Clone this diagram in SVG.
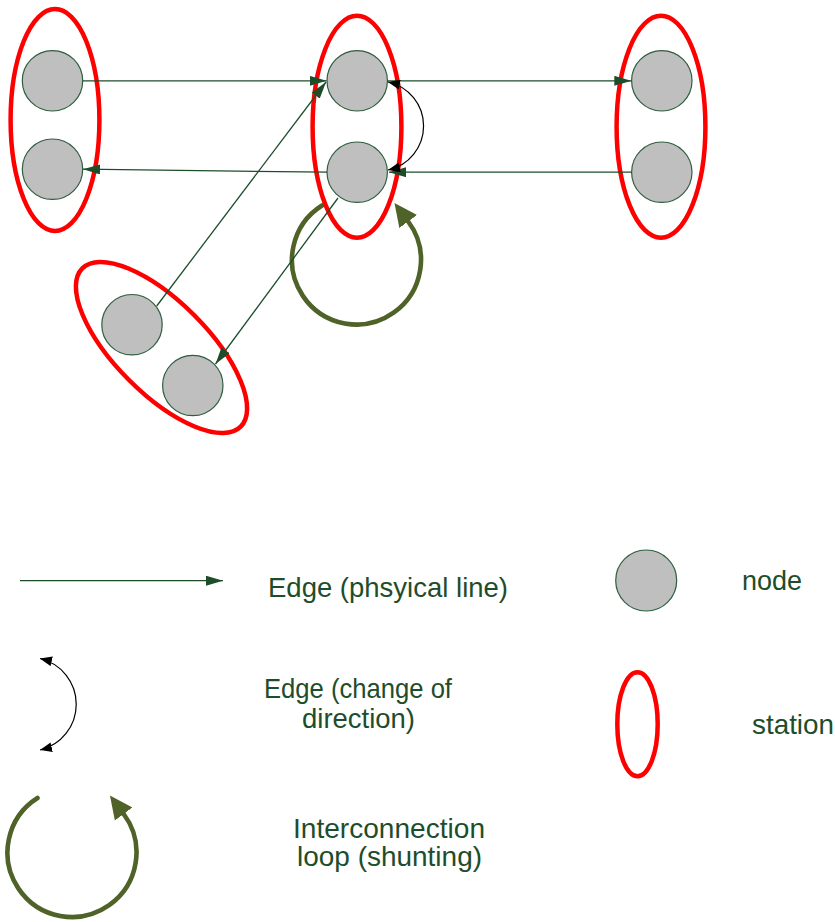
<svg xmlns="http://www.w3.org/2000/svg" width="835" height="922" viewBox="0 0 835 922">
  <style>
    .node { fill: #BFBFBF; stroke: #2E5E3E; stroke-width: 1.2; }
    .station { fill: none; stroke: #FF0000; stroke-width: 4.5; }
    .edge { fill: none; stroke: #1E4D2B; stroke-width: 1.3; marker-end: url(#arrowG); }
    .turn { fill: none; stroke: #000000; stroke-width: 1.2; marker-start: url(#arrowK); marker-end: url(#arrowK); }
    .loop { fill: none; stroke: #4F6228; stroke-width: 4.6; stroke-linecap: round; marker-end: url(#arrowLoop); }
    .label { font-family: "Liberation Sans", Arial, sans-serif; font-size: 28px; fill: #1E4D2B; }
  </style>
  <defs>
    <marker id="arrowG" markerUnits="userSpaceOnUse" markerWidth="17" markerHeight="10" refX="17" refY="5" orient="auto">
      <path d="M0,0 L17,5 L0,10 z" fill="#1E4D2B"/>
    </marker>
    <marker id="arrowK" markerUnits="userSpaceOnUse" markerWidth="12" markerHeight="10" refX="12" refY="5" orient="auto-start-reverse">
      <path d="M0,0 L12,5 L0,10 z" fill="#000000"/>
    </marker>
    <marker id="arrowLoop" markerUnits="userSpaceOnUse" markerWidth="23" markerHeight="23" refX="0" refY="11.5" orient="auto">
      <path d="M0,0.5 L23,11.5 L0,22.5 z" fill="#4F6228"/>
    </marker>
  </defs>

  <!-- shunting loop (behind stations) -->
  <g id="shunting-loop">
    <path class="loop" d="M322 205.5 A64.5 64.5 0 1 0 408.2 221.5"/>
  </g>

  <!-- stations -->
  <g id="station-left"><ellipse class="station" cx="55" cy="120" rx="44.4" ry="111"/></g>
  <g id="station-middle"><ellipse class="station" cx="357" cy="126.7" rx="44.4" ry="111"/></g>
  <g id="station-right"><ellipse class="station" cx="661" cy="126.7" rx="44.4" ry="111"/></g>
  <g id="station-lower"><ellipse class="station" cx="161.5" cy="347.5" rx="112" ry="46" transform="rotate(45 161.5 347.5)"/></g>

  <!-- nodes -->
  <g id="node-l1"><circle class="node" cx="52.5" cy="80.8" r="30.2"/></g>
  <g id="node-l2"><circle class="node" cx="52.5" cy="169.2" r="30.2"/></g>
  <g id="node-m1"><circle class="node" cx="357.2" cy="80.8" r="30.2"/></g>
  <g id="node-m2"><circle class="node" cx="357.2" cy="172.2" r="30.2"/></g>
  <g id="node-r1"><circle class="node" cx="661.8" cy="80.8" r="30.2"/></g>
  <g id="node-r2"><circle class="node" cx="661.8" cy="172.2" r="30.2"/></g>
  <g id="node-d1"><circle class="node" cx="132" cy="324.7" r="30.2"/></g>
  <g id="node-d2"><circle class="node" cx="192.8" cy="385.5" r="30.2"/></g>

  <!-- connectors -->
  <g id="connectors">
    <line class="edge" x1="82.7" y1="80.8" x2="326.5" y2="80.8"/>
    <line class="edge" x1="327" y1="172.2" x2="83" y2="169.2"/>
    <line class="edge" x1="387.4" y1="80.8" x2="631.3" y2="80.8"/>
    <line class="edge" x1="631.6" y1="172.2" x2="389" y2="172.2"/>
    <line class="edge" x1="156.7" y1="306" x2="326" y2="82"/>
    <line class="edge" x1="338" y1="198" x2="215.5" y2="364"/>
    <path class="turn" d="M388 82 A45 45 0 0 1 388 170"/>
  </g>

  <!-- legend -->
  <g id="legend-edge">
    <line class="edge" x1="20" y1="580.7" x2="223" y2="580.7"/>
    <text class="label" x="388" y="597" text-anchor="middle" textLength="240" lengthAdjust="spacingAndGlyphs">Edge (phsyical line)</text>
  </g>
  <g id="legend-node">
    <circle class="node" cx="646.2" cy="580.5" r="30.5"/>
    <text class="label" x="742" y="590" textLength="60" lengthAdjust="spacingAndGlyphs">node</text>
  </g>
  <g id="legend-turn">
    <path class="turn" d="M40 658.5 A47 47 0 0 1 40 750"/>
    <text class="label" x="358" y="698" text-anchor="middle" textLength="188" lengthAdjust="spacingAndGlyphs">Edge (change of</text>
    <text class="label" x="358.5" y="728" text-anchor="middle" textLength="113" lengthAdjust="spacingAndGlyphs">direction)</text>
  </g>
  <g id="legend-station">
    <ellipse class="station" cx="637.5" cy="724.2" rx="20.2" ry="52"/>
    <text class="label" x="752" y="734" textLength="82" lengthAdjust="spacingAndGlyphs">station</text>
  </g>
  <g id="legend-loop">
    <path class="loop" d="M37.5 798 A64.5 64.5 0 1 0 123.7 814"/>
    <text class="label" x="389" y="838" text-anchor="middle" textLength="192" lengthAdjust="spacingAndGlyphs">Interconnection</text>
    <text class="label" x="389.5" y="866" text-anchor="middle" textLength="185" lengthAdjust="spacingAndGlyphs">loop (shunting)</text>
  </g>
</svg>
